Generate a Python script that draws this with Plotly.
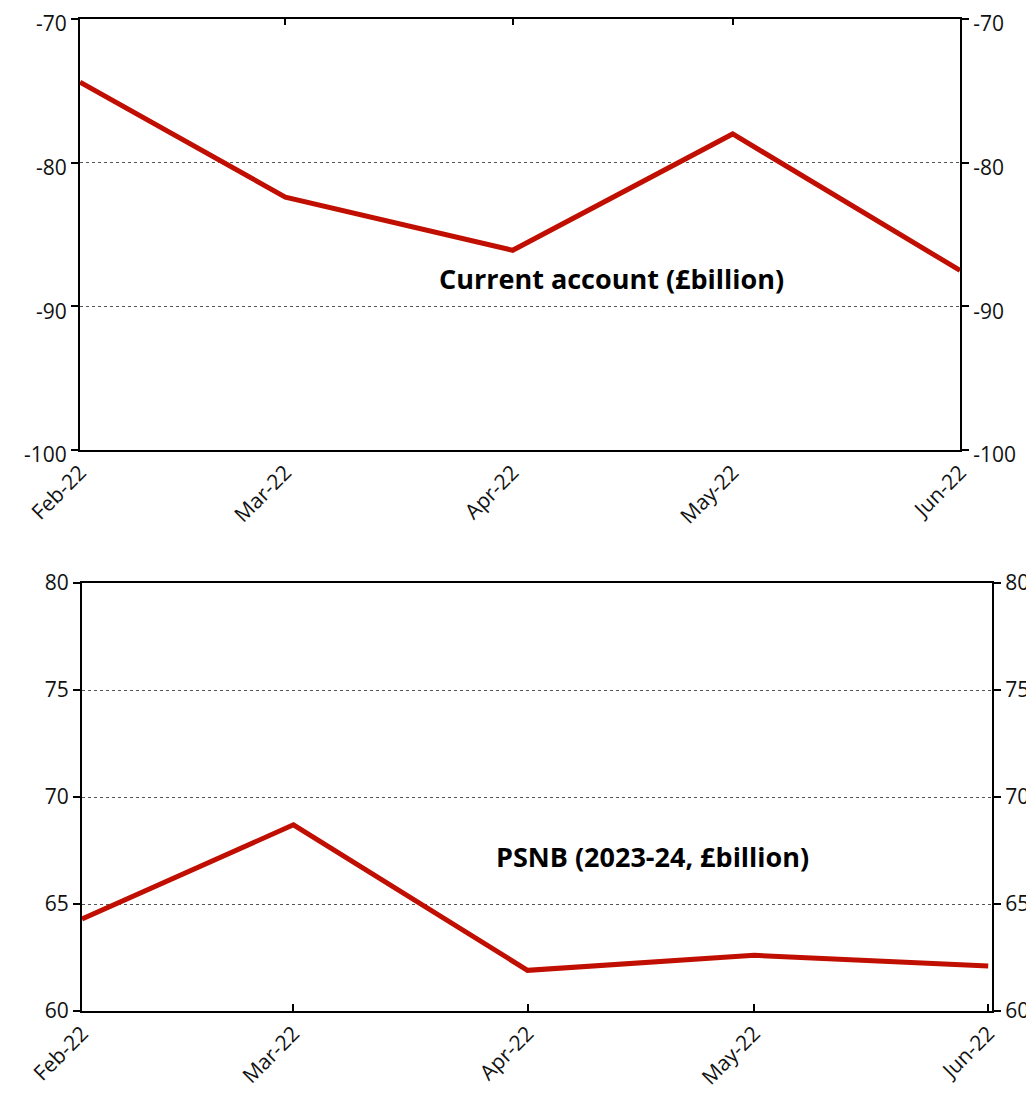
import plotly.graph_objects as go

dates = ["2022-02-01", "2022-03-01", "2022-04-01", "2022-05-01", "2022-06-01"]
current_account = [-74.4, -82.4, -86.1, -78.0, -87.5]
psnb = [64.3, 68.7, 61.9, 62.6, 62.1]
ca_ticks = [-100, -90, -80, -70]
psnb_ticks = [60, 65, 70, 75, 80]

W, H = 1034, 1097
OFF = 8  # page body margin
RED = "#C00F00"
FONT = "Open Sans, Noto Sans, sans-serif"

def fx(px):
    return (px - OFF) / W

def fy(px):
    return 1 - (px - OFF) / H

fig = go.Figure()
fig.add_trace(go.Scatter(x=dates, y=current_account, mode="lines",
                         line=dict(color=RED, width=5), xaxis="x", yaxis="y",
                         showlegend=False, hoverinfo="skip"))
fig.add_trace(go.Scatter(x=dates, y=psnb, mode="lines",
                         line=dict(color=RED, width=5), xaxis="x2", yaxis="y2",
                         showlegend=False, hoverinfo="skip"))

tickfont = dict(family=FONT, size=21, color="#111111")
common_x = dict(type="date", tickvals=dates, tickformat="%b-%y", tickangle=-45,
                showgrid=False, zeroline=False, showline=True, linecolor="black",
                linewidth=2, tickfont=tickfont, automargin=False,
                ticklabeloverflow="allow")
common_y = dict(showgrid=True, gridcolor="#555555", griddash="dot", gridwidth=1,
                zeroline=False, showline=True, linecolor="black", linewidth=2,
                ticks="outside", ticklen=7, tickwidth=2, tickcolor="black",
                tickfont=tickfont, automargin=False, ticklabeloverflow="allow")

top_dom_x = [fx(80), fx(960)]
top_dom_y = [fy(450), fy(19)]
bot_dom_x = [fx(82), fx(992)]
bot_dom_y = [fy(1011), fy(583)]

ca_range = [min(ca_ticks), max(ca_ticks)]
ps_range = [min(psnb_ticks), max(psnb_ticks)]
ca_text = [str(v) for v in ca_ticks]
ps_text = [str(v) for v in psnb_ticks]
top_xrange = ["2022-02-01", "2022-06-01"]
bot_xrange = ["2022-02-01", "2022-06-01 12:00"]

fig.update_layout(
    width=W, height=H,
    margin=dict(l=0, r=0, t=0, b=0),
    paper_bgcolor="white", plot_bgcolor="white",
    font=dict(family=FONT),
    xaxis=dict(common_x, domain=top_dom_x, anchor="y", range=top_xrange,
               ticks="", mirror=False),
    yaxis=dict(common_y, domain=top_dom_y, anchor="x", range=ca_range,
               tickvals=ca_ticks, ticktext=ca_text, side="left",
               ticklabelshift=5),
    xaxis3=dict(type="date", overlaying="x", side="top", anchor="y",
                range=top_xrange, tickvals=dates, ticks="inside", ticklen=6,
                tickwidth=2, tickcolor="black", showticklabels=False,
                showgrid=False, zeroline=False, showline=True,
                linecolor="black", linewidth=2, automargin=False),
    yaxis3=dict(common_y, overlaying="y", side="right", anchor="x",
                range=ca_range, tickvals=ca_ticks, ticktext=ca_text, showgrid=False,
                ticklabelshift=5),
    xaxis2=dict(common_x, domain=bot_dom_x, anchor="y2", range=bot_xrange,
                ticks="inside", ticklen=7, tickwidth=2, tickcolor="black",
                mirror=True),
    yaxis2=dict(common_y, domain=bot_dom_y, anchor="x2", range=ps_range,
                tickvals=psnb_ticks, ticktext=ps_text, side="left"),
    yaxis4=dict(common_y, overlaying="y2", side="right", anchor="x2",
                range=ps_range, tickvals=psnb_ticks, ticktext=ps_text, showgrid=False),
)

fig.add_trace(go.Scatter(x=dates, y=current_account, mode="lines",
                         line=dict(width=0), opacity=0, xaxis="x3", yaxis="y3",
                         showlegend=False, hoverinfo="skip"))
fig.add_trace(go.Scatter(x=dates, y=psnb, mode="lines",
                         line=dict(width=0), opacity=0, xaxis="x2", yaxis="y4",
                         showlegend=False, hoverinfo="skip"))

fig.add_annotation(text="<b>Current account (£billion)</b>", xref="paper", yref="paper",
                   x=fx(611), y=fy(278), xanchor="center", yanchor="middle",
                   showarrow=False, font=dict(family=FONT, size=27, color="black"))
fig.add_annotation(text="<b>PSNB (2023-24, £billion)</b>", xref="paper", yref="paper",
                   x=fx(652), y=fy(856), xanchor="center", yanchor="middle",
                   showarrow=False, font=dict(family=FONT, size=27, color="black"))

fig.write_html("out.html")
